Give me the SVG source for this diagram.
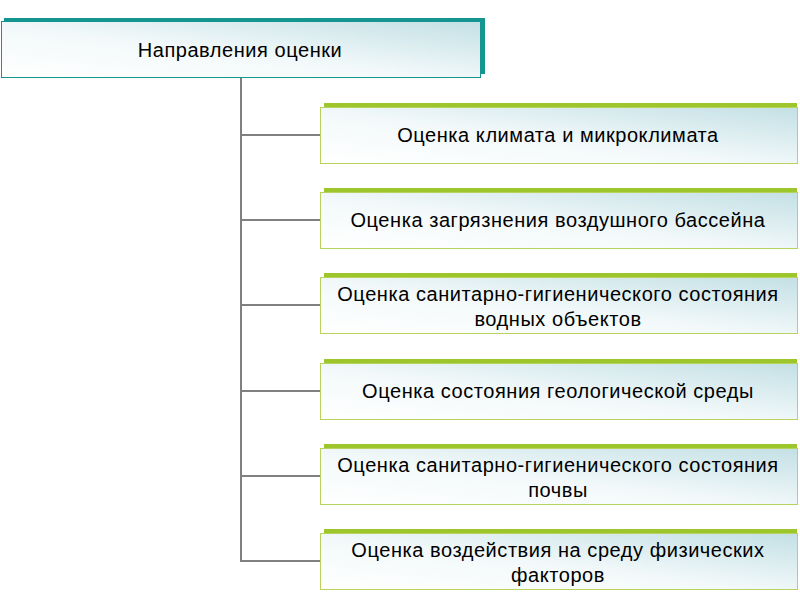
<svg xmlns="http://www.w3.org/2000/svg" width="800" height="600" viewBox="0 0 800 600">
<defs>
<linearGradient id="fill" x1="0" y1="1" x2="1" y2="0">
<stop offset="0" stop-color="#ffffff"/>
<stop offset="0.45" stop-color="#f3f9fa"/>
<stop offset="1" stop-color="#c3e0e5"/>
</linearGradient>
<style>
.lbl{font-family:"Liberation Sans",Arial,sans-serif;font-size:20px;letter-spacing:0.55px;fill:#000;text-anchor:middle}
.conn{stroke:#808080;stroke-width:2;fill:none}
.gsh{fill:#9cc62b}
.gbox{fill:url(#fill);stroke:#b7d35c;stroke-width:1}
.tsh{fill:#14958f}
.tbox{fill:url(#fill);stroke:#14958f;stroke-width:1}
</style>
</defs>
<rect width="800" height="600" fill="#ffffff"/>
<g id="connectors">
<path class="conn" d="M241 78 V561"/>
<path class="conn" d="M240 135 H320 M240 220 H320 M240 305 H320 M240 391 H320 M240 476 H320 M240 561 H320"/>
</g>
<g id="root">
<rect class="tsh" x="4" y="18" width="481" height="56"/>
<rect class="tbox" x="1.5" y="21.5" width="479" height="56"/>
<text class="lbl" x="240" y="57">Направления оценки</text>
</g>
<g id="n1">
<rect class="gsh" x="324" y="103" width="473" height="57"/>
<rect class="gbox" x="320.5" y="107.5" width="477" height="56"/>
<text class="lbl" x="558" y="142">Оценка климата и микроклимата</text>
</g>
<g id="n2">
<rect class="gsh" x="324" y="188" width="473" height="57"/>
<rect class="gbox" x="320.5" y="192.5" width="477" height="56"/>
<text class="lbl" x="558" y="227">Оценка загрязнения воздушного бассейна</text>
</g>
<g id="n3">
<rect class="gsh" x="324" y="273" width="473" height="57"/>
<rect class="gbox" x="320.5" y="277.5" width="477" height="56"/>
<text class="lbl" x="558" y="301">Оценка санитарно-гигиенического состояния</text>
<text class="lbl" x="558" y="326">водных объектов</text>
</g>
<g id="n4">
<rect class="gsh" x="324" y="359" width="473" height="57"/>
<rect class="gbox" x="320.5" y="363.5" width="477" height="56"/>
<text class="lbl" x="558" y="398">Оценка состояния геологической среды</text>
</g>
<g id="n5">
<rect class="gsh" x="324" y="444" width="473" height="57"/>
<rect class="gbox" x="320.5" y="448.5" width="477" height="56"/>
<text class="lbl" x="558" y="472">Оценка санитарно-гигиенического состояния</text>
<text class="lbl" x="558" y="497">почвы</text>
</g>
<g id="n6">
<rect class="gsh" x="324" y="529" width="473" height="57"/>
<rect class="gbox" x="320.5" y="533.5" width="477" height="56"/>
<text class="lbl" x="558" y="557">Оценка воздействия на среду физических</text>
<text class="lbl" x="558" y="582">факторов</text>
</g>
</svg>
